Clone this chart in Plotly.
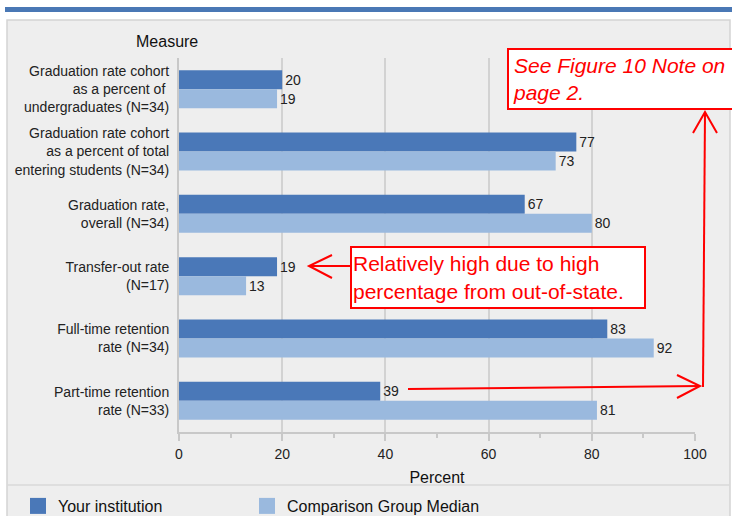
import plotly.graph_objects as go

categories = [
    "Graduation rate cohort<br>as a percent of <br>undergraduates (N=34)",
    "Graduation rate cohort<br>as a percent of total<br>entering students (N=34)",
    "Graduation rate,<br>overall (N=34)",
    "Transfer-out rate<br>(N=17)",
    "Full-time retention<br>rate (N=34)",
    "Part-time retention<br>rate (N=33)",
]
your_institution = [20, 77, 67, 19, 83, 39]
comparison_median = [19, 73, 80, 13, 92, 81]
series_names = ["Your institution", "Comparison Group Median"]
x_ticks = [0, 20, 40, 60, 80, 100]

W, H = 732, 516
L, R, T, B = 179, 37, 58, 84
PW, PH = W - L - R, H - T - B


def px(x):
    return (x - L) / PW


def py(y):
    return (H - B - y) / PH


FONT = "Arial, Liberation Sans, sans-serif"
DARK = "#4a78b8"
LIGHT = "#9ab9de"
RED = "#ff0000"

fig = go.Figure()
fig.add_trace(go.Bar(
    y=categories, x=your_institution, orientation="h", name=series_names[0],
    marker=dict(color=DARK, line=dict(width=0)), showlegend=False,
    text=your_institution, textposition="outside", cliponaxis=False,
    textfont=dict(size=14, color="#222222", family=FONT),
))
fig.add_trace(go.Bar(
    y=categories, x=comparison_median, orientation="h", name=series_names[1],
    marker=dict(color=LIGHT, line=dict(width=0)), showlegend=False,
    text=comparison_median, textposition="outside", cliponaxis=False,
    textfont=dict(size=14, color="#222222", family=FONT),
))
for name, col, lg in zip(series_names, [DARK, LIGHT], ["legend", "legend2"]):
    fig.add_trace(go.Scatter(
        x=[None], y=[None], mode="markers", name=name, legend=lg,
        marker=dict(symbol="square", size=17, color=col), showlegend=True,
    ))

shapes = [
    dict(type="rect", xref="paper", yref="paper", x0=px(5), x1=px(735), y0=py(12), y1=py(7),
         fillcolor="#4a78b5", line=dict(width=0), layer="below"),
    dict(type="rect", xref="paper", yref="paper", x0=px(7), x1=px(730), y0=py(520), y1=py(20),
         fillcolor="#eeeeee", line=dict(color="#d4d4d4", width=1.5), layer="below"),
    dict(type="line", xref="paper", yref="paper", x0=px(7), x1=px(730), y0=py(485), y1=py(485),
         line=dict(color="#d8d8d8", width=1.5), layer="below"),
]

red_line = dict(color=RED, width=2)
arrow_paths = [
    [(350, 266), (309, 266)],
    [(332, 255), (309, 266), (332, 278)],
    [(408, 389), (700, 386)],
    [(677, 375), (700, 386), (677, 398)],
    [(703, 387), (705, 112)],
    [(693, 133), (705, 112), (717, 133)],
]
for pts in arrow_paths:
    path = "M" + " L".join(f"{px(a)},{py(b)}" for a, b in pts)
    shapes.append(dict(type="path", xref="paper", yref="paper", path=path,
                       line=red_line, layer="above"))

annotations = [
    dict(text="Measure", xref="paper", yref="paper", x=px(167), y=py(41),
         xanchor="center", yanchor="middle", showarrow=False,
         font=dict(size=16, color="#111111", family=FONT)),
    dict(text="<i>See Figure 10 Note on<br>page 2.</i>", xref="paper", yref="paper",
         x=px(507), y=py(48), xanchor="left", yanchor="top", align="left", showarrow=False,
         font=dict(size=21, color=RED, family=FONT), bgcolor="white",
         bordercolor=RED, borderwidth=2, borderpad=4, width=232),
    dict(text="Relatively high due to high<br>percentage from out-of-state.", xref="paper", yref="paper",
         x=px(350), y=py(246), xanchor="left", yanchor="top", align="left", showarrow=False,
         font=dict(size=21, color=RED, family=FONT), bgcolor="white",
         bordercolor=RED, borderwidth=2, borderpad=1, width=290, height=57),
]

legend_common = dict(orientation="h", xref="container", yref="container",
                     y=(H - 506) / H, xanchor="left", yanchor="middle",
                     font=dict(size=16, color="#111111", family=FONT), itemsizing="trace",
                     bgcolor="rgba(0,0,0,0)")

fig.update_layout(
    width=W, height=H, autosize=False,
    margin=dict(l=L, r=R, t=T, b=B, pad=0),
    paper_bgcolor="white", plot_bgcolor="rgba(0,0,0,0)",
    barmode="group", bargap=0.39, bargroupgap=0,
    font=dict(family=FONT, size=14, color="#222222"),
    shapes=shapes, annotations=annotations,
    showlegend=True,
    legend=dict(x=18 / W, **legend_common),
    legend2=dict(x=247 / W, **legend_common),
    xaxis=dict(range=[0, 100], tickvals=x_ticks, ticktext=[str(v) for v in x_ticks],
               showgrid=True, gridcolor="#d2d2d2", gridwidth=2, zeroline=False,
               showline=True, linecolor="#c8c8c8", linewidth=2,
               ticks="outside", ticklen=7, tickcolor="#c8c8c8", tickwidth=1.5,
               minor=dict(dtick=10, tick0=0, ticks="outside", ticklen=4, tickcolor="#c8c8c8", showgrid=False),
               ticklabelstandoff=1, automargin=False,
               tickfont=dict(size=14, color="#222222"),
               title=dict(text="Percent", font=dict(size=16, color="#111111"), standoff=11)),
    yaxis=dict(autorange="reversed", showgrid=False, zeroline=False,
               showline=True, linecolor="#c8c8c8", linewidth=2,
               ticks="", ticklabelstandoff=5, automargin=False,
               tickfont=dict(size=14, color="#222222")),
)

fig.write_html("out.html", config={"displayModeBar": False},
               post_script="document.body.style.margin='0';document.body.style.overflow='hidden';")
